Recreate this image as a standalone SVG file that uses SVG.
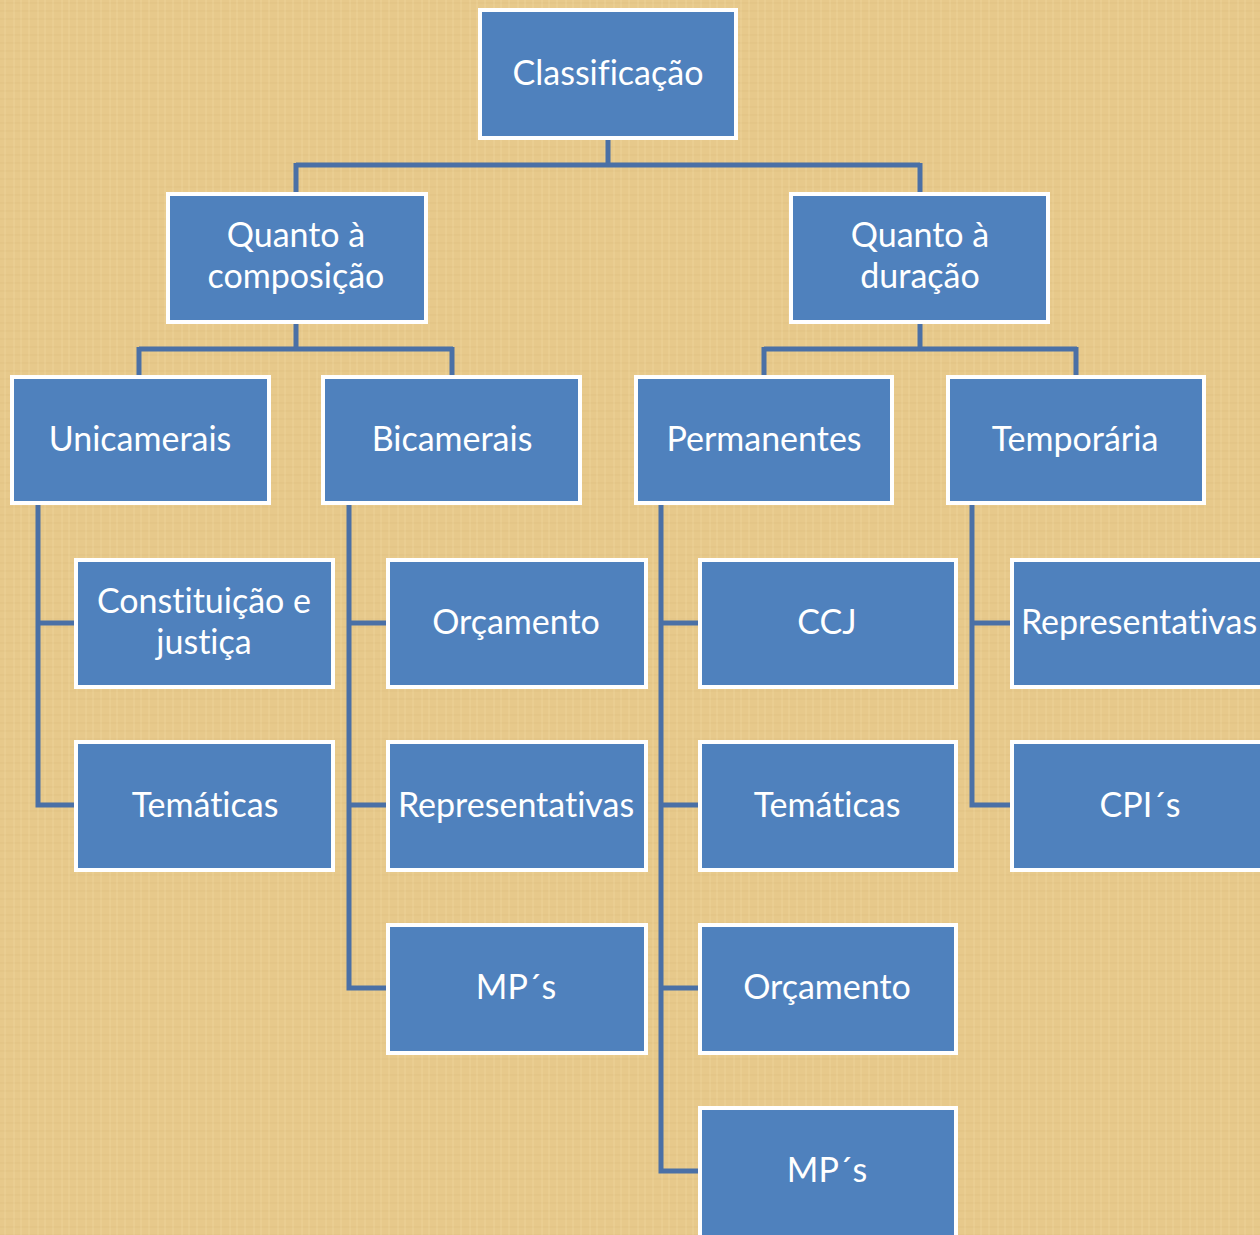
<svg xmlns="http://www.w3.org/2000/svg" width="1260" height="1235" viewBox="0 0 1260 1235">
<defs>
<pattern id="tex" width="24" height="24" patternUnits="userSpaceOnUse">
<rect width="24" height="24" fill="#E7C98B"/>
<path d="M0 3H24M0 11H24M0 19H24" stroke="#D6B373" stroke-width="1" opacity="0.35"/>
<path d="M5 0V24M14 0V24M21 0V24" stroke="#F3DDA8" stroke-width="1" opacity="0.4"/>
</pattern>
<style>
.n rect{fill:#4F81BD;stroke:#FFFFFF;stroke-width:4}
.n text{fill:#FFFFFF;font-family:Lato,"Open Sans","Liberation Sans",sans-serif;font-size:34px;text-anchor:middle;font-variant-ligatures:none;font-feature-settings:"liga" 0,"clig" 0}
#connectors path{fill:none;stroke:#4A70A6;stroke-width:5}
</style>
</defs>
<rect width="1260" height="1235" fill="url(#tex)"/>
<g id="connectors">
<path d="M608 138V165M296 165H920M296 163V194M920 163V194"/>
<path d="M296 322V349M139 349H453M139 347V377M452 347V377"/>
<path d="M920 322V349M764 349H1077M764 347V377M1076 347V377"/>
<path d="M38 503V805H76M38 623H76"/>
<path d="M349 503V988H388M349 623H388M349 805H388"/>
<path d="M661 503V1171H700M661 623H700M661 805H700M661 988H700"/>
<path d="M972 503V805H1012M972 623H1012"/>
</g>
<g id="n-classificacao" class="n"><rect x="480" y="10" width="256" height="128"/><text x="608" y="85">Classificação</text></g>
<g id="n-composicao" class="n"><rect x="168" y="194" width="258" height="128"/><text x="296" y="247">Quanto à</text><text x="296" y="288">composição</text></g>
<g id="n-duracao" class="n"><rect x="791" y="194" width="257" height="128"/><text x="920" y="247">Quanto à</text><text x="920" y="288">duração</text></g>
<g id="n-unicamerais" class="n"><rect x="12" y="377" width="257" height="126"/><text x="140" y="451">Unicamerais</text></g>
<g id="n-bicamerais" class="n"><rect x="323" y="377" width="257" height="126"/><text x="452" y="451">Bicamerais</text></g>
<g id="n-permanentes" class="n"><rect x="636" y="377" width="256" height="126"/><text x="764" y="451">Permanentes</text></g>
<g id="n-temporaria" class="n"><rect x="948" y="377" width="256" height="126"/><text x="1075" y="451">Temporária</text></g>
<g id="n-cj" class="n"><rect x="76" y="560" width="257" height="127"/><text x="204" y="613">Constituição e</text><text x="204" y="654">justiça</text></g>
<g id="n-u-tematicas" class="n"><rect x="76" y="742" width="257" height="128"/><text x="205" y="817">Temáticas</text></g>
<g id="n-b-orcamento" class="n"><rect x="388" y="560" width="258" height="127"/><text x="516" y="634">Orçamento</text></g>
<g id="n-b-representativas" class="n"><rect x="388" y="742" width="258" height="128"/><text x="516" y="817">Representativas</text></g>
<g id="n-b-mps" class="n"><rect x="388" y="925" width="258" height="128"/><text x="516" y="999">MP´s</text></g>
<g id="n-ccj" class="n"><rect x="700" y="560" width="256" height="127"/><text x="827" y="634">CCJ</text></g>
<g id="n-p-tematicas" class="n"><rect x="700" y="742" width="256" height="128"/><text x="827" y="817">Temáticas</text></g>
<g id="n-p-orcamento" class="n"><rect x="700" y="925" width="256" height="128"/><text x="827" y="999">Orçamento</text></g>
<g id="n-p-mps" class="n"><rect x="700" y="1108" width="256" height="132"/><text x="827" y="1182">MP´s</text></g>
<g id="n-t-representativas" class="n"><rect x="1012" y="560" width="256" height="127"/><text x="1139" y="634">Representativas</text></g>
<g id="n-t-cpis" class="n"><rect x="1012" y="742" width="256" height="128"/><text x="1140" y="817">CPI´s</text></g>
</svg>
